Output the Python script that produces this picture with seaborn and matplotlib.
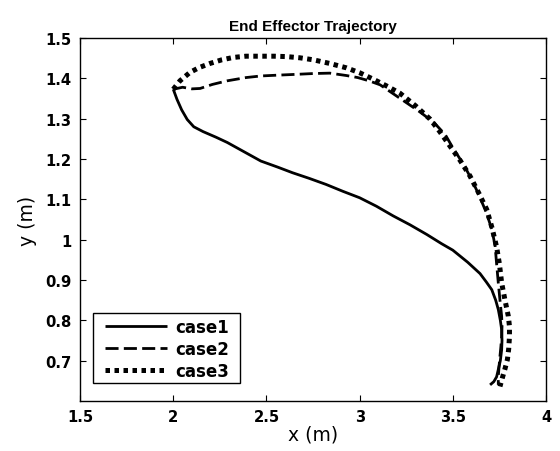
import matplotlib
matplotlib.use("Agg")
import matplotlib.pyplot as plt
from matplotlib.patches import Rectangle
import seaborn as sns
import pandas as pd

case1_x = [2.0, 2.02, 2.045, 2.075, 2.11, 2.16, 2.23, 2.29, 2.38, 2.47, 2.56, 2.64, 2.73, 2.82,
           2.91, 3.0, 3.09, 3.18, 3.27, 3.36, 3.44, 3.50, 3.58, 3.646, 3.68, 3.709, 3.73, 3.744,
           3.755, 3.762, 3.764, 3.762, 3.755, 3.744, 3.735, 3.72, 3.70]
case1_y = [1.373, 1.348, 1.322, 1.298, 1.280, 1.268, 1.254, 1.241, 1.218, 1.195, 1.180, 1.166, 1.152, 1.137,
           1.120, 1.104, 1.083, 1.059, 1.037, 1.013, 0.99, 0.974, 0.944, 0.916, 0.895, 0.876, 0.85, 0.827,
           0.80, 0.777, 0.75, 0.727, 0.70, 0.678, 0.66, 0.648, 0.640]

case2_x = [2.0, 2.05, 2.10, 2.144, 2.21, 2.29, 2.39, 2.47, 2.56, 2.66, 2.75, 2.84, 2.93, 2.99,
           3.05, 3.11, 3.18, 3.25, 3.32, 3.40, 3.46, 3.50, 3.56, 3.61, 3.65, 3.68, 3.71, 3.727,
           3.735, 3.744, 3.753, 3.762, 3.764, 3.762, 3.758, 3.753, 3.748, 3.744, 3.744]
case2_y = [1.373, 1.378, 1.374, 1.375, 1.385, 1.394, 1.402, 1.406, 1.408, 1.410, 1.412, 1.413, 1.407, 1.402,
           1.394, 1.384, 1.362, 1.340, 1.318, 1.290, 1.260, 1.228, 1.185, 1.141, 1.10, 1.067, 1.025, 0.984,
           0.94, 0.893, 0.85, 0.810, 0.785, 0.760, 0.735, 0.711, 0.685, 0.661, 0.640]

case3_x = [2.0, 2.036, 2.09, 2.14, 2.197, 2.26, 2.323, 2.39, 2.466, 2.54, 2.609, 2.68, 2.752, 2.84,
           2.93, 3.0, 3.073, 3.15, 3.217, 3.30, 3.378, 3.43, 3.485, 3.54, 3.592, 3.64, 3.682, 3.71,
           3.735, 3.75, 3.762, 3.78, 3.798, 3.804, 3.804, 3.80, 3.793, 3.78, 3.768, 3.753]
case3_y = [1.373, 1.394, 1.415, 1.427, 1.437, 1.446, 1.452, 1.455, 1.455, 1.455, 1.454, 1.451, 1.446, 1.437,
           1.426, 1.414, 1.398, 1.380, 1.363, 1.332, 1.299, 1.268, 1.232, 1.196, 1.158, 1.115, 1.075, 1.03,
           0.982, 0.94, 0.893, 0.85, 0.810, 0.785, 0.760, 0.73, 0.703, 0.68, 0.661, 0.636]

labels = ["case1", "case2", "case3"]
xticks = [1.5, 2, 2.5, 3, 3.5, 4]
xticklabels = ["1.5", "2", "2.5", "3", "3.5", "4"]
yticks = [0.7, 0.8, 0.9, 1.0, 1.1, 1.2, 1.3, 1.4, 1.5]
yticklabels = ["0.7", "0.8", "0.9", "1", "1.1", "1.2", "1.3", "1.4", "1.5"]

sns.set_style("ticks")
plt.rcParams['font.family'] = ['DejaVu Sans']
plt.rcParams.update({'text.color': 'black', 'axes.labelcolor': 'black',
                     'xtick.color': 'black', 'ytick.color': 'black'})

fig = plt.figure(figsize=(5.6, 4.52), dpi=100)
ax = fig.add_axes([0.143, 0.1106, 0.832, 0.803])

styles = [dict(lw=2.0, ls='-'),
          dict(lw=2.0, ls=(0, (4.7, 1.9))),
          dict(lw=3.6, ls=(0, (0.9, 0.9)))]
for xs, ys, lab, st in zip([case1_x, case2_x, case3_x], [case1_y, case2_y, case3_y], labels, styles):
    df = pd.DataFrame({"x": xs, "y": ys})
    sns.lineplot(data=df, x="x", y="y", sort=False, estimator=None, ax=ax,
                 color='black', linewidth=st['lw'], linestyle=st['ls'], label=lab)

for ln in ax.get_lines():
    ln.set_dash_capstyle('butt')
    ln.set_solid_capstyle('butt')

ax.set_xlim(1.5, 4)
ax.set_ylim(0.6, 1.5)
ax.set_xticks(xticks)
ax.set_xticklabels(xticklabels, fontweight='bold', fontsize=10.6)
ax.set_yticks(yticks)
ax.set_yticklabels(yticklabels, fontweight='bold', fontsize=10.6)
ax.tick_params(direction='in', top=True, right=True, length=4, width=0.8, pad=6)
for sp in ax.spines.values():
    sp.set_visible(True)
    sp.set_linewidth(1.0)
    sp.set_color('black')

ax.set_title("End Effector Trajectory", fontweight='bold', fontsize=11, pad=6,
             family=['Liberation Sans', 'DejaVu Sans'])
ax.set_xlabel("x (m)", fontsize=13.5, labelpad=0)
ax.set_ylabel("y (m)", fontsize=13.5, labelpad=6)

# legend box (sharp, black edge) drawn behind a frameless legend
box = Rectangle((0.0279, 0.0496), 0.3155, 0.1928, transform=ax.transAxes,
                facecolor='white', edgecolor='black', linewidth=1.0, zorder=4.5)
ax.add_patch(box)
leg = ax.legend(loc='lower left', bbox_to_anchor=(0.0536, 0.058), borderaxespad=0,
                frameon=False, prop={'weight': 'bold', 'size': 12}, handlelength=3.7,
                labelspacing=0.25, borderpad=0.0, handletextpad=0.5)
leg.set_zorder(5)

fig.savefig("out.png", dpi=100)
